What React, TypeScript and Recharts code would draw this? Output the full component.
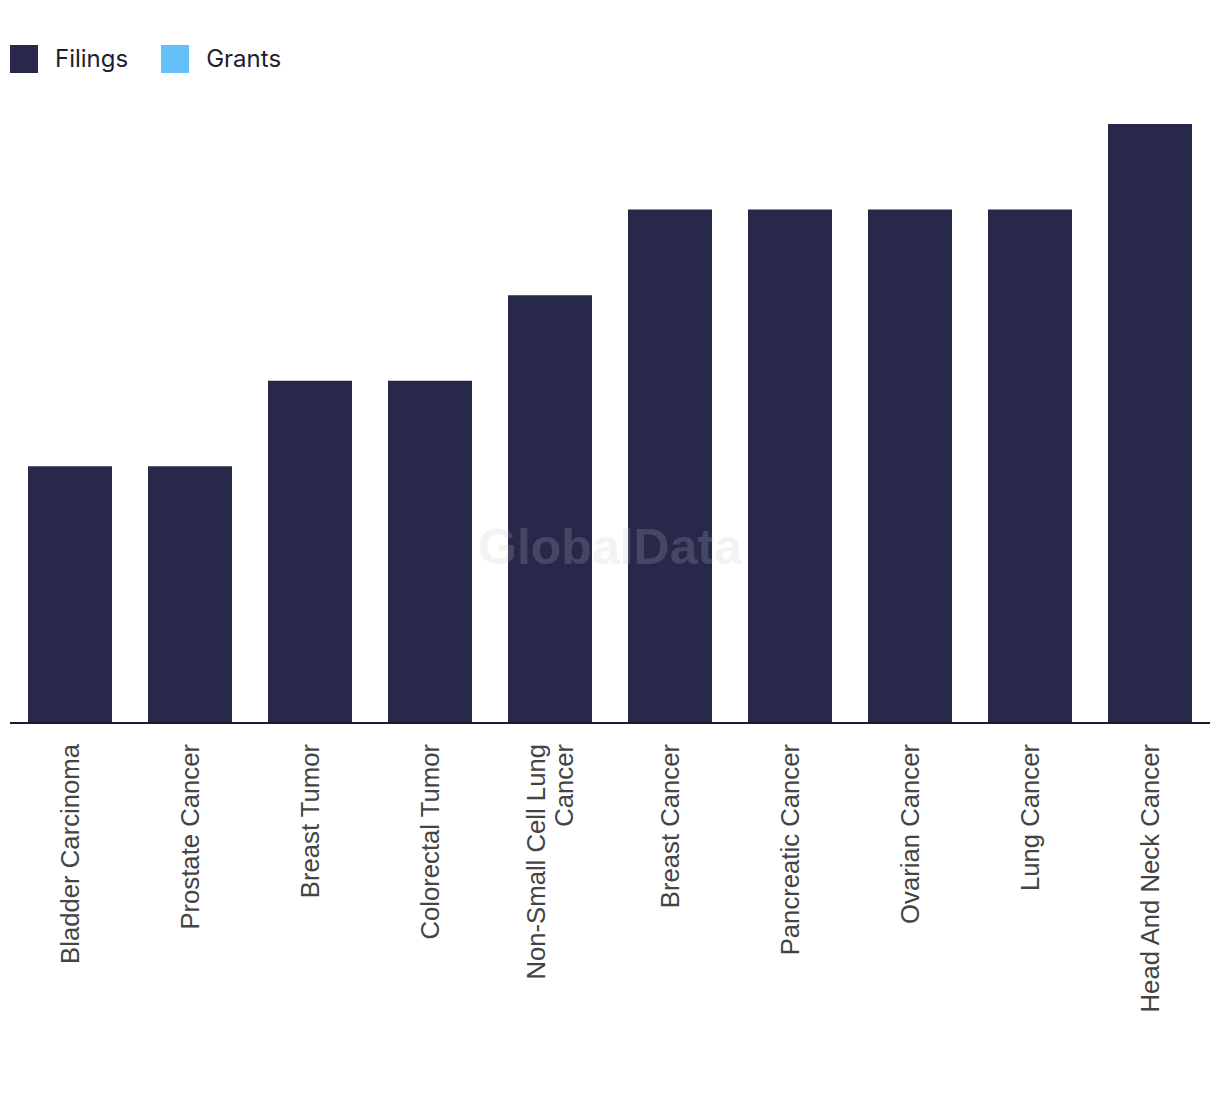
import { Bar, BarChart, XAxis, YAxis } from 'recharts';

const categories = [
  'Bladder Carcinoma',
  'Prostate Cancer',
  'Breast Tumor',
  'Colorectal Tumor',
  'Non-Small Cell Lung Cancer',
  'Breast Cancer',
  'Pancreatic Cancer',
  'Ovarian Cancer',
  'Lung Cancer',
  'Head And Neck Cancer',
];
const filings = [3, 3, 4, 4, 5, 6, 6, 6, 6, 7];
const grants = [0, 0, 0, 0, 0, 0, 0, 0, 0, 0];

const FILINGS_COLOR = '#27284a';
const GRANTS_COLOR = '#62c1f9';

const data = categories.map((name, i) => ({
  name,
  filings: filings[i],
  grants: grants[i],
}));

// break long labels into lines of at most ~22 characters
function wrapLabel(label: string, max = 22): string[] {
  const words = label.split(' ');
  const lines: string[] = [];
  let cur = '';
  for (const w of words) {
    const next = cur ? cur + ' ' + w : w;
    if (next.length > max && cur) {
      lines.push(cur);
      cur = w;
    } else {
      cur = next;
    }
  }
  if (cur) lines.push(cur);
  return lines;
}

function CategoryTick(props: any) {
  const { x, y, payload } = props;
  const lines = wrapLabel(String(payload.value));
  const lineHeight = 28;
  const start = -((lines.length - 1) * lineHeight) / 2;
  return (
    <g transform={`translate(${x},${y + 13}) rotate(-90)`}>
      {lines.map((line, i) => (
        <text
          key={i}
          x={0}
          y={start + i * lineHeight}
          dy="0.35em"
          textAnchor="end"
          fontFamily="'Liberation Sans', Arial, sans-serif"
          fontSize={25.7}
          fill="#444444"
        >
          {line}
        </text>
      ))}
    </g>
  );
}

function LegendItem({ color, label }: { color: string; label: string }) {
  return (
    <div style={{ display: 'flex', alignItems: 'center', marginRight: 33 }}>
      <div style={{ width: 28, height: 28, background: color, marginRight: 17 }} />
      <span style={{ fontFamily: 'Inter, sans-serif', fontSize: 24, color: '#1e1e2e' }}>{label}</span>
    </div>
  );
}

export default function App() {
  return (
    <div style={{ position: 'absolute', left: 0, top: 0, width: 1220, height: 1094, background: '#fff' }}>
      <div style={{ position: 'absolute', left: 10, top: 44, display: 'flex' }}>
        <LegendItem color={FILINGS_COLOR} label="Filings" />
        <LegendItem color={GRANTS_COLOR} label="Grants" />
      </div>
      <BarChart
        width={1220}
        height={1094}
        data={data}
        margin={{ top: 124, right: 10, bottom: 71, left: 10 }}
        barCategoryGap="15%"
      >
        <YAxis hide domain={[0, 7]} />
        <XAxis
          dataKey="name"
          interval={0}
          height={300}
          tickLine={false}
          axisLine={{ stroke: '#1a1a2e', strokeWidth: 2 }}
          tick={<CategoryTick />}
        />
        <Bar dataKey="filings" stackId="a" fill={FILINGS_COLOR} isAnimationActive={false} />
        <Bar dataKey="grants" stackId="a" fill={GRANTS_COLOR} isAnimationActive={false} />
      </BarChart>
      <div
        style={{
          position: 'absolute',
          left: 0,
          width: 1220,
          top: 518,
          textAlign: 'center',
          fontFamily: "'Liberation Sans', Arial, sans-serif",
          fontWeight: 'bold',
          fontSize: 50,
          color: 'rgba(196,196,200,0.2)',
          pointerEvents: 'none',
        }}
      >
        GlobalData
      </div>
    </div>
  );
}
